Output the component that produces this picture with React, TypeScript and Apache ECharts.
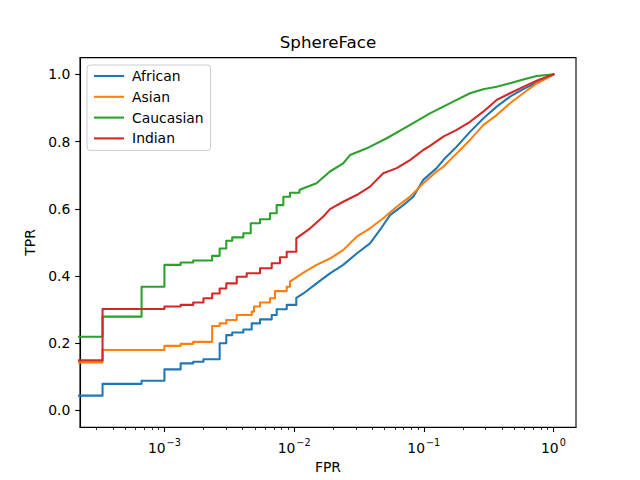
import React, { useEffect, useRef } from 'react';
import * as echarts from 'echarts';

const FONT = 'DejaVu Sans';

const seriesNames = ['African', 'Asian', 'Caucasian', 'Indian'];
const seriesColors = ['#1f77b4', '#ff7f0e', '#2ca02c', '#d62728'];

// Low-FPR part of each ROC curve: (fpr, tpr) corner points, drawn as steps
const africanStepFpr = [0, 1 / 3000, 2 / 3000, 3 / 3000, 4 / 3000, 5 / 3000, 6 / 3000, 8 / 3000, 9 / 3000, 10 / 3000, 0.00406, 0.00471, 0.00546, 0.00672, 0.00734, 0.00877, 0.0104];
const africanStepTpr = [0.044, 0.079, 0.088, 0.122, 0.140, 0.145, 0.152, 0.200, 0.224, 0.232, 0.241, 0.259, 0.271, 0.284, 0.301, 0.314, 0.335];
const asianStepFpr = [0, 1 / 3000, 3 / 3000, 4 / 3000, 5 / 3000, 7 / 3000, 8 / 3000, 9 / 3000, 0.00361, 0.00471, 0.00491, 0.00546, 0.00652, 0.00712, 0.00877, 0.00929];
const asianStepTpr = [0.143, 0.180, 0.192, 0.198, 0.204, 0.251, 0.259, 0.269, 0.284, 0.294, 0.309, 0.321, 0.334, 0.355, 0.368, 0.383];
const caucasianStepFpr = [0, 1 / 3000, 2 / 3000, 3 / 3000, 4 / 3000, 5 / 3000, 7 / 3000, 8 / 3000, 9 / 3000, 10 / 3000, 0.00406, 0.00463, 0.00546, 0.00652, 0.00734, 0.00826, 0.00929, 0.011];
const caucasianStepTpr = [0.219, 0.279, 0.368, 0.433, 0.440, 0.446, 0.460, 0.482, 0.505, 0.515, 0.527, 0.557, 0.569, 0.587, 0.611, 0.636, 0.648, 0.656];
const indianStepFpr = [0, 1 / 3000, 3 / 3000, 4 / 3000, 5 / 3000, 6 / 3000, 7 / 3000, 8 / 3000, 9 / 3000, 0.00361, 0.00431, 0.00546, 0.00672, 0.00778, 0.00877, 0.0104];
const indianStepTpr = [0.149, 0.302, 0.309, 0.314, 0.321, 0.334, 0.348, 0.363, 0.378, 0.398, 0.408, 0.423, 0.438, 0.456, 0.472, 0.512];

// Higher-FPR part of each ROC curve (dense points, drawn as a polyline)
const africanFpr = [0.0118, 0.0149, 0.0189, 0.0239, 0.0304, 0.0385, 0.0459, 0.0549, 0.0695, 0.083, 0.0991, 0.1257, 0.1414, 0.1794, 0.2272, 0.2875, 0.3648, 0.4623, 0.585, 0.742, 1.0];
const africanTpr = [0.348, 0.378, 0.408, 0.433, 0.467, 0.497, 0.537, 0.581, 0.611, 0.636, 0.686, 0.721, 0.745, 0.785, 0.829, 0.869, 0.904, 0.934, 0.956, 0.975, 1.0];
const asianFpr = [0.0118, 0.0149, 0.0189, 0.0239, 0.0304, 0.0385, 0.0487, 0.0618, 0.0783, 0.0991, 0.1257, 0.1414, 0.1794, 0.2272, 0.2875, 0.3648, 0.4623, 0.585, 0.742, 0.886, 1.0];
const asianTpr = [0.410, 0.433, 0.452, 0.477, 0.517, 0.542, 0.572, 0.606, 0.636, 0.676, 0.711, 0.725, 0.765, 0.805, 0.849, 0.879, 0.914, 0.944, 0.973, 0.988, 1.0];
const caucasianFpr = [0.0118, 0.0149, 0.0189, 0.0239, 0.027, 0.0363, 0.0518, 0.0738, 0.1116, 0.1414, 0.1794, 0.2272, 0.2875, 0.3648, 0.4623, 0.585, 0.742, 1.0];
const caucasianTpr = [0.661, 0.676, 0.711, 0.735, 0.760, 0.780, 0.810, 0.844, 0.884, 0.904, 0.924, 0.944, 0.956, 0.963, 0.974, 0.985, 0.995, 1.0];
const indianFpr = [0.0133, 0.0168, 0.0189, 0.0239, 0.0304, 0.0385, 0.0487, 0.0618, 0.0783, 0.0991, 0.1116, 0.1414, 0.1794, 0.2272, 0.2875, 0.3648, 0.4623, 0.585, 0.742, 1.0];
const indianTpr = [0.542, 0.577, 0.599, 0.621, 0.641, 0.666, 0.706, 0.721, 0.745, 0.775, 0.787, 0.815, 0.835, 0.859, 0.889, 0.924, 0.944, 0.963, 0.981, 1.0];

// Axis ticks
const xMajorTicks = [0.001, 0.01, 0.1, 1];
const xMinorMultipliers = [2, 3, 4, 5, 6, 7, 8, 9];
const xMinorDecades = [0.0001, 0.001, 0.01, 0.1];
const yTicks = [0, 0.2, 0.4, 0.6, 0.8, 1.0];

// Axis extents (FPR in log10 space, TPR linear)
const X_MIN = -3.651;
const X_MAX = 0.1739;
const Y_MIN = -0.05;
const Y_MAX = 1.05;

const lx = (f: number) => (f > 0 ? Math.log10(f) : -10);

function buildPath(sf: number[], st: number[], f: number[], t: number[]) {
  const pts: number[][] = [];
  for (let i = 0; i < sf.length; i++) {
    if (i > 0) pts.push([lx(sf[i]), st[i - 1]]);
    pts.push([lx(sf[i]), st[i]]);
  }
  for (let i = 0; i < f.length; i++) pts.push([lx(f[i]), t[i]]);
  return pts;
}

export default function App() {
  const ref = useRef<HTMLDivElement>(null);

  useEffect(() => {
    if (!ref.current) return;
    const chart = echarts.init(ref.current, null, { renderer: 'svg' });

    const curves = [
      buildPath(africanStepFpr, africanStepTpr, africanFpr, africanTpr),
      buildPath(asianStepFpr, asianStepTpr, asianFpr, asianTpr),
      buildPath(caucasianStepFpr, caucasianStepTpr, caucasianFpr, caucasianTpr),
      buildPath(indianStepFpr, indianStepTpr, indianFpr, indianTpr),
    ];

    const majorLog = xMajorTicks.map((v) => Math.round(Math.log10(v)));
    const minorLog: number[] = [];
    xMinorDecades.forEach((d) =>
      xMinorMultipliers.forEach((m) => {
        const v = Math.log10(m * d);
        if (v > X_MIN && v < X_MAX) minorLog.push(v);
      })
    );

    const textBase = { fontFamily: FONT, color: '#000', fontSize: 13.9 };

    chart.setOption({
      animation: false,
      backgroundColor: '#ffffff',
      title: {
        text: 'SphereFace',
        left: 328,
        top: 33.5,
        padding: 0,
        textAlign: 'center',
        textStyle: { fontFamily: FONT, color: '#000', fontSize: 16.7, fontWeight: 'normal' },
      },
      legend: {
        data: seriesNames,
        orient: 'vertical',
        left: 87,
        top: 65,
        itemWidth: 28,
        itemHeight: 14,
        itemGap: 6.8,
        padding: [4, 7, 5, 7],
        backgroundColor: 'rgba(255,255,255,0.8)',
        borderColor: '#cccccc',
        borderWidth: 1,
        borderRadius: 3,
        selectedMode: false,
        itemStyle: { opacity: 0 },
        lineStyle: { width: 2.08 },
        textStyle: { ...textBase, padding: [0, 0, 0, 4] },
      },
      grid: {
        left: 80,
        right: 64,
        top: 57.6,
        bottom: 52.8,
        show: true,
        borderColor: '#000',
        borderWidth: 1.1,
        backgroundColor: 'transparent',
      },
      xAxis: [
        {
          type: 'value',
          min: X_MIN,
          max: X_MAX,
          position: 'bottom',
          name: 'FPR',
          nameLocation: 'middle',
          nameGap: 33,
          nameTextStyle: textBase,
          axisLine: { show: true, onZero: false, lineStyle: { color: '#000', width: 1.1 } },
          axisTick: { show: true, customValues: majorLog, length: 4.86, lineStyle: { color: '#000', width: 1.1 } },
          axisLabel: {
            show: true,
            customValues: majorLog,
            margin: 10,
            ...textBase,
            formatter: (v: number) => '{b|10}{s|' + String(Math.round(v)).replace('-', '\u2212') + '}',
            rich: {
              b: { ...textBase, fontSize: 13.9, verticalAlign: 'bottom', lineHeight: 18 },
              s: { ...textBase, fontSize: 9.7, verticalAlign: 'top', lineHeight: 10, padding: [0, 0, 0, 1] },
            },
          },
          splitLine: { show: false },
        },
        {
          type: 'value',
          min: X_MIN,
          max: X_MAX,
          position: 'bottom',
          axisLine: { show: false, onZero: false },
          axisTick: { show: true, customValues: minorLog, length: 2.78, lineStyle: { color: '#000', width: 0.83 } },
          axisLabel: { show: false },
          splitLine: { show: false },
        },
      ],
      yAxis: {
        type: 'value',
        min: Y_MIN,
        max: Y_MAX,
        name: 'TPR',
        nameLocation: 'middle',
        nameGap: 40,
        nameTextStyle: textBase,
        axisLine: { show: true, onZero: false, lineStyle: { color: '#000', width: 1.1 } },
        axisTick: { show: true, customValues: yTicks, length: 4.86, lineStyle: { color: '#000', width: 1.1 } },
        axisLabel: {
          show: true,
          customValues: yTicks,
          margin: 9.7,
          ...textBase,
          formatter: (v: number) => v.toFixed(1),
        },
        splitLine: { show: false },
      },
      series: seriesNames.map((name, i) => ({
        name,
        type: 'line',
        xAxisIndex: 0,
        data: curves[i],
        symbol: 'none',
        showSymbol: false,
        clip: true,
        color: seriesColors[i],
        lineStyle: { color: seriesColors[i], width: 2.08, cap: 'square', join: 'round' },
      })),
    });

    return () => chart.dispose();
  }, []);

  return <div ref={ref} style={{ position: 'absolute', left: 0, top: 0, width: 640, height: 480 }} />;
}
